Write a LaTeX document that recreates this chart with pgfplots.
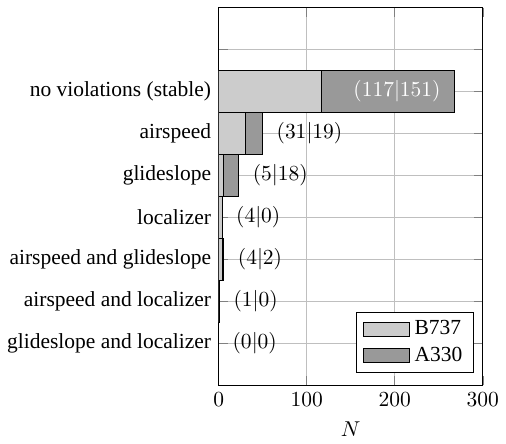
\documentclass[border=0pt]{standalone}
\usepackage{fontspec}
\setmainfont{Liberation Serif}
\usepackage{pgfplots}
\usepackage{pgfplotstable}
\pgfplotsset{compat=1.18}
\pgfplotstableread{
y b a lab
0 0 0 {$(0|0)$}
1 1 0 {$(1|0)$}
2 4 2 {$(4|2)$}
3 4 0 {$(4|0)$}
4 5 18 {$(5|18)$}
5 31 19 {$(31|19)$}
6 117 151 {$(117|151)$}
}\datatab
\begin{document}
\begin{tikzpicture}
\begin{axis}[
  scale only axis,
  width=123pt, height=176pt,
  xbar stacked,
  bar width=1,
  xmin=0, xmax=300,
  xtick={0,100,200,300},
  ymin=-1, ymax=8,
  ytick={0,1,2,3,4,5,6,7},
  yticklabels={glideslope and localizer, airspeed and localizer, airspeed and glideslope, localizer, glideslope, airspeed, no violations (stable), {}},
  grid=major,
  xlabel={$N$},
  legend style={at={(0.965,0.032)}, anchor=south east, legend cell align=left},
  legend image code/.code={\draw[#1] (0cm,-0.115cm) rectangle (0.76cm,0.115cm);},
]
\addplot[draw=black, fill=black!20] table[x=b, y=y] {\datatab};
\addlegendentry{B737}
\addplot[draw=black, fill=black!40] table[x=a, y=y] {\datatab};
\addlegendentry{A330}
\end{axis}
\begin{axis}[
  scale only axis,
  width=123pt, height=176pt,
  xmin=0, xmax=300,
  ymin=-1, ymax=8,
  hide axis, clip=false,
]
\addplot[draw=none, mark=none, point meta=explicit symbolic,
  nodes near coords,
  every node near coord/.append style={anchor=west, xshift=3pt},
  skip coords between index={6}{7},
] table[x expr=\thisrow{b}+\thisrow{a}, y=y, meta=lab] {\datatab};
\addplot[draw=none, mark=none, point meta=explicit symbolic,
  nodes near coords,
  every node near coord/.append style={anchor=east, xshift=-3pt, text=white},
  skip coords between index={0}{6},
] table[x expr=\thisrow{b}+\thisrow{a}, y=y, meta=lab] {\datatab};
\end{axis}
\path ([yshift=3.5pt]current axis.north);
\end{tikzpicture}
\end{document}
